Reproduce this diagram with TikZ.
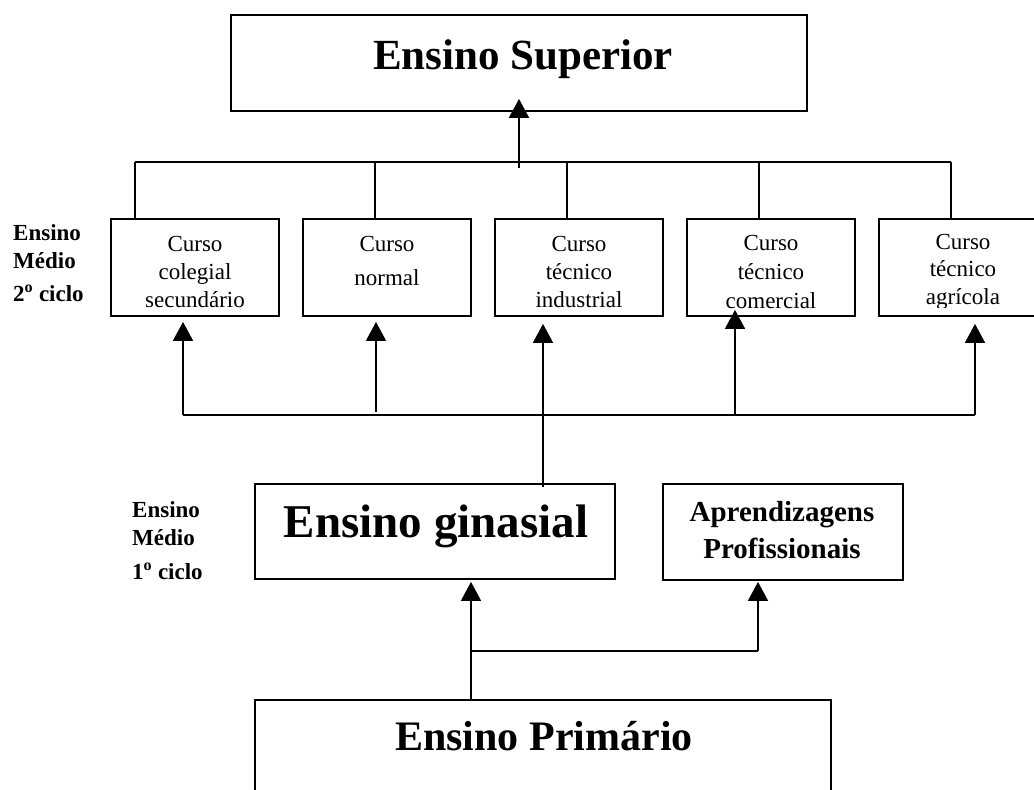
\documentclass[tikz,border=0pt]{standalone}
\usepackage{fontspec}
\setmainfont{Liberation Serif}
\usetikzlibrary{arrows.meta}
\begin{document}
\begin{tikzpicture}[x=1pt,y=-1pt,
  box/.style={draw, line width=1.8pt, rectangle, inner sep=0pt},
  conn/.style={line width=1.8pt},
  arr/.style={line width=1.8pt, -{Triangle[length=19pt,width=20pt]}},
  ctext/.style={align=center, inner sep=0pt, anchor=north, font=\fontsize{23}{28}\selectfont},
  side/.style={align=left, inner sep=0pt, anchor=north west, font=\bfseries\fontsize{23}{28.5}\selectfont},
  big/.style={inner sep=0pt, anchor=base}
]
\useasboundingbox (0,0) rectangle (1034,790);
\clip (0,0) rectangle (1034,790);

% top box
\node[box, minimum width=576pt, minimum height=96pt] (sup) at (519,63) {};
\node[big, font=\bfseries\fontsize{43}{50}\selectfont] (supt) at (523,69) {Ensino Superior};

% course boxes
\node[box, minimum width=168pt, minimum height=97pt] (c1) at (195,267.5) {};
\node[box, minimum width=168pt, minimum height=97pt] (c2) at (387,267.5) {};
\node[box, minimum width=168pt, minimum height=97pt] (c3) at (579,267.5) {};
\node[box, minimum width=168pt, minimum height=97pt] (c4) at (771,267.5) {};
\node[box, minimum width=168pt, minimum height=97pt] (c5) at (963,267.5) {};

\node[ctext] (t1) at (195,236) {Curso\\colegial\\secundário};
\node[ctext] (t2) at (387,236) {Curso\\[6pt]normal};
\node[ctext] (t3) at (579,236.5) {Curso\\técnico\\industrial};
\begin{scope}
  \clip (c4.north west) rectangle ([yshift=7pt]c4.south east);
  \node[ctext, font=\fontsize{23}{29}\selectfont] (t4) at (771,235) {Curso\\técnico\\comercial};
\end{scope}
\begin{scope}
  \clip (c5.north west) rectangle ([yshift=9pt]c5.south east);
  \node[ctext, font=\fontsize{23}{27.5}\selectfont] (t5) at (963,234) {Curso\\técnico\\agrícola};
\end{scope}

% side labels
\node[side] (lab2) at (13,224) {Ensino\\Médio\\[4pt]2\textsuperscript{o} ciclo};
\node[side] (lab1) at (132,501) {Ensino\\Médio\\[5pt]1\textsuperscript{o} ciclo};

% middle boxes
\node[box, minimum width=360pt, minimum height=95pt] (gin) at (435,531.5) {};
\node[big, font=\bfseries\fontsize{47}{54}\selectfont] (gint) at (436,537) {Ensino ginasial};
\node[box, minimum width=240pt, minimum height=96pt] (apr) at (783,532) {};
\node[align=center, inner sep=0pt, anchor=north, font=\bfseries\fontsize{29}{37}\selectfont] (aprt) at (782,501) {Aprendizagens\\Profissionais};

% bottom box
\node[box, minimum width=576pt, minimum height=96pt] (pri) at (543,748) {};
\node[big, font=\bfseries\fontsize{42}{50}\selectfont] (prit) at (544,750) {Ensino Primário};

% upper connectors
\coordinate (hl) at (135,162);
\coordinate (d2) at (375,162);
\coordinate (d3) at (567,162);
\coordinate (d4) at (759,162);
\coordinate (hr) at (951,162);
\draw[conn] (hl) -- (hr);
\draw[conn] (hl) -- (hl |- c1.north);
\draw[conn] (d2) -- (d2 |- c2.north);
\draw[conn] (d3) -- (d3 |- c3.north);
\draw[conn] (d4) -- (d4 |- c4.north);
\draw[conn] (hr) -- (hr |- c5.north);
\coordinate (s0) at (519,168);
\draw[arr] (s0) -- ([yshift=13pt]s0 |- sup.south);

% lower connectors
\coordinate (l1) at (183,415);
\coordinate (l2) at (376,412);
\coordinate (l3) at (543,487);
\coordinate (l4) at (735,415);
\coordinate (l5) at (975,415);
\draw[conn] (l1) -- (l5);
\draw[arr] (l1) -- ([yshift=-5pt]l1 |- c1.south);
\draw[arr] (l2) -- ([yshift=-5pt]l2 |- c2.south);
\draw[arr] (l3) -- ([yshift=-7pt]l3 |- c3.south);
\draw[arr] (l4) -- ([yshift=7pt]l4 |- c4.south);
\draw[arr] (l5) -- ([yshift=-7pt]l5 |- c5.south);

% bottom connectors
\coordinate (b0) at (471,651);
\coordinate (b1) at (758,651);
\draw[conn] (b0) -- (b1);
\draw[arr] (b0 |- pri.north) -- ([yshift=-2pt]b0 |- gin.south);
\draw[arr] (b1) -- ([yshift=-1pt]b1 |- apr.south);
\end{tikzpicture}
\end{document}
